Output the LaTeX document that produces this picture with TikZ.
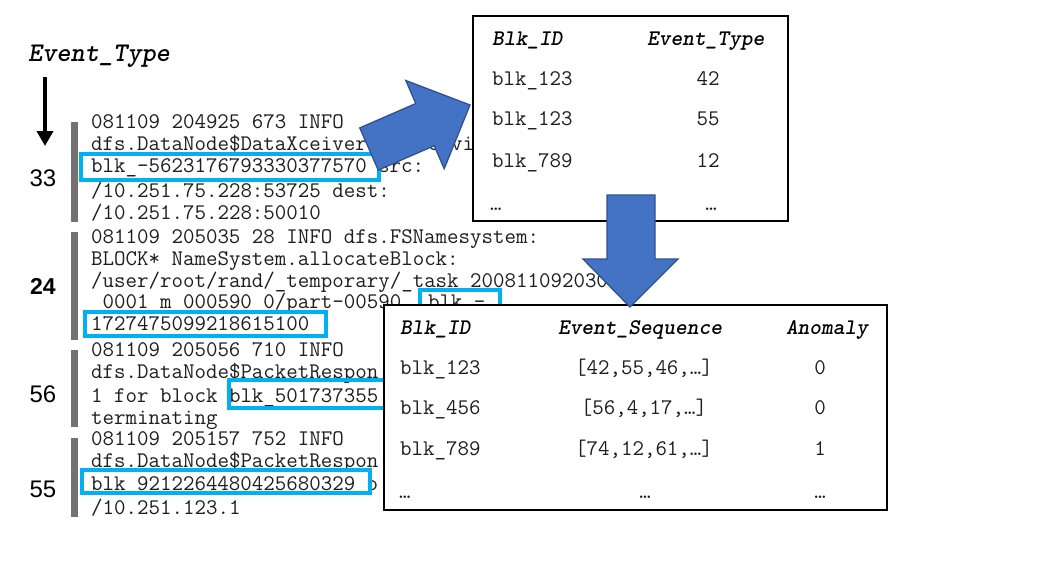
\documentclass[tikz,border=0pt]{standalone}
\usepackage{fontspec}
\setmainfont{Liberation Sans}
\usetikzlibrary{arrows.meta}
\definecolor{hlblue}{HTML}{00B0F0}
\definecolor{bargray}{HTML}{767171}
\definecolor{arrfill}{HTML}{4472C4}
\definecolor{arredge}{HTML}{2F528F}
\definecolor{logink}{HTML}{1E1E1E}
\newcommand\logfnt{\ttfamily\fontsize{22.3}{24}\selectfont}
\newcommand\hdrfnt{\ttfamily\bfseries\itshape\fontsize{22.3}{24}\selectfont}
\begin{document}
\begin{tikzpicture}[x=1pt,y=-1pt,
  logline/.style={anchor=base west, inner sep=0pt, font=\logfnt, text=logink},
  cell/.style={anchor=base west, inner sep=0pt, font=\logfnt, text=logink},
  cellc/.style={anchor=base, inner sep=0pt, font=\logfnt, text=logink},
  hdr/.style={anchor=base west, inner sep=0pt, font=\hdrfnt},
  hdrc/.style={anchor=base, inner sep=0pt, font=\hdrfnt},
  num/.style={inner sep=0pt, font=\fontsize{24}{26}\selectfont},
  hlbox/.style={draw=hlblue, line width=3.5pt},
  grbar/.style={draw=bargray, line width=7pt},
  tablebox/.style={draw=black, line width=2pt, fill=white},
  blockarrow/.style={fill=arrfill, draw=arredge, line width=1.3pt, line join=miter}]
\useasboundingbox[fill=white] (0,0) rectangle (1056,576);

% label and down arrow
\node[inner sep=0pt, font=\ttfamily\bfseries\itshape\fontsize{27}{29}\selectfont] (evlabel) at (99,56) {Event\_Type};
\coordinate (evtop) at (45,77);
\coordinate (evbot) at (45,146);
\draw[line width=3.5pt, -{Triangle[width=16pt,length=15pt]}] (evtop) -- (evbot);

% block 1
\node[logline] (l11) at (91,128) {081109 204925 673 INFO};
\node[logline] (l12) at (91,150) {dfs.DataNode\$DataXceiver: Receivi};
\node[logline] (l13) at (91,172) {blk\_-5623176793330377570 src:};
\node[logline] (l14) at (91,197) {/10.251.75.228:53725 dest:};
\node[logline] (l15) at (91,219) {/10.251.75.228:50010};
% block 2
\node[logline] (l21) at (91,243) {081109 205035 28 INFO dfs.FSNamesystem:};
\node[logline] (l22) at (91,265) {BLOCK* NameSystem.allocateBlock:};
\node[logline] (l23) at (91,287) {/user/root/rand/\_temporary/\_task\_200811092030};
\node[logline] (l24) at (91,308) {\_0001\_m\_000590\_0/part-00590. blk\_-};
\node[logline] (l25) at (91,330) {1727475099218615100};
% block 3
\node[logline] (l31) at (91,356) {081109 205056 710 INFO};
\node[logline] (l32) at (91,378) {dfs.DataNode\$PacketRespon};
\node[logline] (l33) at (91,402) {1 for block blk\_501737355};
\node[logline] (l34) at (91,424) {terminating};
% block 4
\node[logline] (l41) at (91,445) {081109 205157 752 INFO};
\node[logline] (l42) at (91,467) {dfs.DataNode\$PacketRespon};
\node[logline] (l43) at (91,490) {blk\_9212264480425680329 o};
\node[logline] (l44) at (91,514) {/10.251.123.1};

% event type numbers
\node[num] (n33) at (43,178) {33};
\node[num, font=\bfseries\fontsize{23}{25}\selectfont] (n24) at (43,286) {24};
\node[num] (n56) at (43,394) {56};
\node[num] (n55) at (43,489) {55};

% gray bars
\draw[grbar] (74,122) -- (74,222);
\draw[grbar] (74,232) -- (74,340);
\draw[grbar] (74,350) -- (74,427);
\draw[grbar] (74,438) -- (74,517);

% highlight boxes
\draw[hlbox] (81,154) rectangle (379,180);
\draw[hlbox] (420,290) rectangle (500,316);
\draw[hlbox] (85,312) rectangle (326,336);
\draw[hlbox] (229,380) rectangle (520,408);
\draw[hlbox] (82,470) rectangle (370,493);

% table 1
\draw[tablebox] (473,16) rectangle (788,221);
\node[hdr] (t1h1) at (492,45) {Blk\_ID};
\node[hdr] (t1h2) at (647,45) {Event\_Type};
\node[cell] (t1a1) at (492,85) {blk\_123};
\node[cellc] (t1b1) at (708,85) {42};
\node[cell] (t1a2) at (492,125) {blk\_123};
\node[cellc] (t1b2) at (708,125) {55};
\node[cell] (t1a3) at (492,167) {blk\_789};
\node[cellc] (t1b3) at (708,167) {12};
\node[cell] (t1a4) at (490,210) {…};
\node[cellc] (t1b4) at (711,210) {…};

% table 2
\draw[tablebox] (384,305) rectangle (887,510);
\node[hdr] (t2h1) at (400,334) {Blk\_ID};
\node[hdrc] (t2h2) at (640,334) {Event\_Sequence};
\node[hdrc] (t2h3) at (827,334) {Anomaly};
\node[cell] (t2a1) at (400,374) {blk\_123};
\node[cellc] (t2b1) at (644,374) {[42,55,46,…]};
\node[cellc] (t2c1) at (820,374) {0};
\node[cell] (t2a2) at (400,414) {blk\_456};
\node[cellc] (t2b2) at (644,414) {[56,4,17,…]};
\node[cellc] (t2c2) at (820,414) {0};
\node[cell] (t2a3) at (400,455) {blk\_789};
\node[cellc] (t2b3) at (644,455) {[74,12,61,…]};
\node[cellc] (t2c3) at (820,455) {1};
\node[cell] (t2a4) at (399,498) {…};
\node[cellc] (t2b4) at (645,498) {…};
\node[cellc] (t2c4) at (820,498) {…};

% block arrows
\draw[blockarrow] (359.8,127.9) -- (415.8,103.5) -- (405.8,80.5) -- (470,105)
  -- (444.2,168.7) -- (434.2,145.7) -- (378.2,170.1) -- cycle;
\draw[blockarrow] (607,195) -- (655,195) -- (655,259) -- (678,259) -- (630,307)
  -- (583,259) -- (607,259) -- cycle;
\end{tikzpicture}
\end{document}
